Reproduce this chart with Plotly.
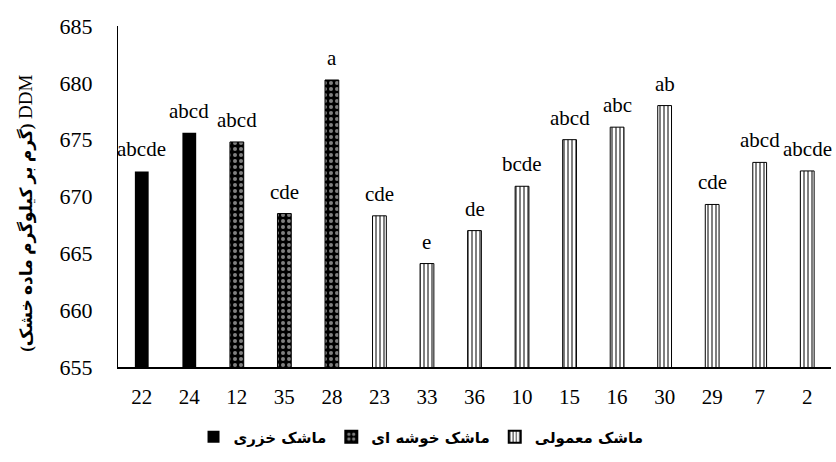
import plotly.graph_objects as go

# Genotype codes in display order
categories = ["22", "24", "12", "35", "28", "23", "33", "36", "10", "15", "16", "30", "29", "7", "2"]

# DDM (g/kg dry matter) per genotype, split by vetch species
khazari_codes = ["22", "24"]
khazari_ddm = [672.2, 675.6]
khazari_letters = ["abcde", "abcd"]

khosheh_codes = ["12", "35", "28"]
khosheh_ddm = [674.8, 668.5, 680.25]
khosheh_letters = ["abcd", "cde", "a"]

maamooli_codes = ["23", "33", "36", "10", "15", "16", "30", "29", "7", "2"]
maamooli_ddm = [668.3, 664.1, 667.0, 670.9, 675.0, 676.1, 678.0, 669.3, 673.0, 672.25]
maamooli_letters = ["cde", "e", "de", "bcde", "abcd", "abc", "ab", "cde", "abcd", "abcde"]

series_names = ["ماشک خزری", "ماشک خوشه ای", "ماشک معمولی"]
y_ticks = [655, 660, 665, 670, 675, 680, 685]

serif = "Liberation Serif, Times New Roman, serif"
bar_w = 0.29

fig = go.Figure()

fig.add_trace(go.Bar(
    x=khazari_codes, y=khazari_ddm, name=series_names[0], width=bar_w,
    marker=dict(color="black", line=dict(width=0)),
))
fig.add_trace(go.Bar(
    x=khosheh_codes, y=khosheh_ddm, name=series_names[1], width=bar_w,
    marker=dict(
        color="black",
        line=dict(width=1, color="black"),
        pattern=dict(shape=".", fgcolor="white", bgcolor="black", size=6, solidity=0.35),
    ),
))
fig.add_trace(go.Bar(
    x=maamooli_codes, y=maamooli_ddm, name=series_names[2], width=bar_w,
    marker=dict(
        color="white",
        line=dict(width=1, color="black"),
        pattern=dict(shape="|", fgcolor="black", bgcolor="white", size=4, solidity=0.5),
    ),
))

# Significance letters above each bar (placed by category index on the x axis)
for codes, vals, letters in [
    (khazari_codes, khazari_ddm, khazari_letters),
    (khosheh_codes, khosheh_ddm, khosheh_letters),
    (maamooli_codes, maamooli_ddm, maamooli_letters),
]:
    for c, v, t in zip(codes, vals, letters):
        fig.add_annotation(
            x=categories.index(c), y=v, text=t, showarrow=False,
            xanchor="center", yanchor="bottom", yshift=8,
            font=dict(family=serif, size=21, color="black"),
        )

# Vertical y-axis title
fig.add_annotation(
    xref="paper", yref="paper", x=-0.13, y=0.45,
    text="<b style='font-size:17px'>(گرم بر کیلوگرم ماده خشک)</b> DDM", textangle=-90,
    showarrow=False, xanchor="center", yanchor="middle",
    font=dict(family="Liberation Serif, DejaVu Sans", size=19, color="black"),
)

fig.update_layout(
    width=836, height=462,
    margin=dict(l=118, r=5, t=26, b=95),
    paper_bgcolor="white", plot_bgcolor="white",
    barmode="overlay",
    showlegend=True,
    legend=dict(
        orientation="h", x=0.425, xanchor="center", y=-0.205, yanchor="middle",
        font=dict(family="DejaVu Sans", size=15, color="black", weight="bold"),
        itemsizing="constant",
    ),
    font=dict(family=serif, color="black"),
)

fig.update_xaxes(
    type="category", categoryorder="array", categoryarray=categories,
    range=[-0.5, len(categories) - 0.5],
    tickmode="array", tickvals=categories, ticktext=categories,
    showline=True, linecolor="black", linewidth=2,
    ticks="", showgrid=False, zeroline=False,
    tickfont=dict(family=serif, size=21, color="black"),
    ticklabelstandoff=10,
)
fig.update_yaxes(
    range=[655, 685], tickvals=y_ticks,
    showline=True, linecolor="black", linewidth=1,
    ticks="", showgrid=False, zeroline=False,
    tickfont=dict(family=serif, size=22, color="black"),
    ticklabelstandoff=20,
)

fig.write_html("out.html")
